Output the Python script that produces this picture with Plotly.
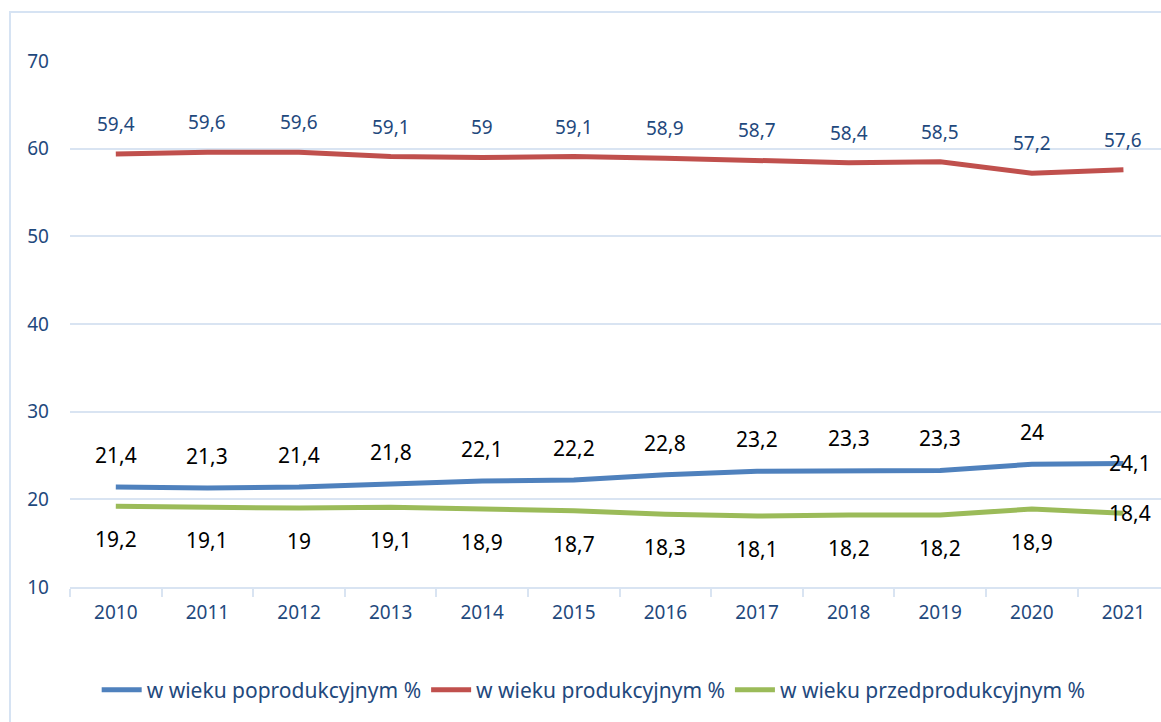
import plotly.graph_objects as go

years = ["2010", "2011", "2012", "2013", "2014", "2015", "2016", "2017", "2018", "2019", "2020", "2021"]
poprodukcyjny = [21.4, 21.3, 21.4, 21.8, 22.1, 22.2, 22.8, 23.2, 23.3, 23.3, 24.0, 24.1]
produkcyjny = [59.4, 59.6, 59.6, 59.1, 59.0, 59.1, 58.9, 58.7, 58.4, 58.5, 57.2, 57.6]
przedprodukcyjny = [19.2, 19.1, 19.0, 19.1, 18.9, 18.7, 18.3, 18.1, 18.2, 18.2, 18.9, 18.4]
series_names = ["w wieku poprodukcyjnym %", "w wieku produkcyjnym %", "w wieku przedprodukcyjnym %"]

BLUE = "#4F81BD"
RED = "#C0504D"
GREEN = "#9BBB59"
TXT = "#1F497D"
GRID = "#D9E4F2"
FONT = "Noto Sans"

fig = go.Figure()
for name, vals, col in [(series_names[0], poprodukcyjny, BLUE),
                        (series_names[1], produkcyjny, RED),
                        (series_names[2], przedprodukcyjny, GREEN)]:
    fig.add_trace(go.Scatter(x=years, y=vals, mode="lines", name=name,
                             line=dict(color=col, width=5), cliponaxis=False))


def fmt(v):
    s = ("%.1f" % v)
    if s.endswith(".0"):
        s = s[:-2]
    return s.replace(".", ",")


def add_labels(vals, color, size, shift, last_right):
    n = len(vals)
    for i, v in enumerate(vals):
        if i == n - 1 and last_right:
            fig.add_annotation(x=i, y=v, xref="x", yref="y", text=fmt(v), showarrow=False,
                               xanchor="left", xshift=-16, yshift=0,
                               font=dict(family=FONT, size=size, color=color))
        else:
            fig.add_annotation(x=i, y=v, xref="x", yref="y", text=fmt(v), showarrow=False,
                               yshift=shift,
                               font=dict(family=FONT, size=size, color=color))

add_labels(produkcyjny, TXT, 19, 30, False)
add_labels(poprodukcyjny, "#000000", 21, 32, True)
add_labels(przedprodukcyjny, "#000000", 21, -33, True)

fig.update_layout(
    width=1161, height=722,
    margin=dict(l=70, r=0, t=61, b=135),
    paper_bgcolor="white", plot_bgcolor="white",
    font=dict(family=FONT, color=TXT, size=19),
    showlegend=True,
    legend=dict(orientation="h", x=0.48, xanchor="center", y=-0.196, yanchor="middle",
                font=dict(family=FONT, size=21, color=TXT), itemwidth=40),
    shapes=[dict(type="rect", xref="paper", yref="paper",
                 x0=-0.055, x1=1.2, y0=-0.5, y1=1.093,
                 line=dict(color="#D6E3F3", width=2), layer="below")],
)
fig.update_xaxes(type="category", range=[-0.5, 11.41], showgrid=False,
                 showline=True, linecolor=GRID, linewidth=2,
                 ticks="outside", tickson="boundaries", ticklen=8, tickcolor=GRID, tickwidth=2,
                 tickfont=dict(family=FONT, size=19, color=TXT), ticklabelstandoff=7)
fig.update_yaxes(range=[10, 70], dtick=10, showgrid=True, gridcolor=GRID, gridwidth=2,
                 zeroline=False, showline=False, ticks="",
                 tickfont=dict(family=FONT, size=19, color=TXT), ticklabelstandoff=20)

fig.write_html("out.html", config={"displayModeBar": False},
               post_script="document.body.style.margin='0';document.body.style.overflow='hidden';")
